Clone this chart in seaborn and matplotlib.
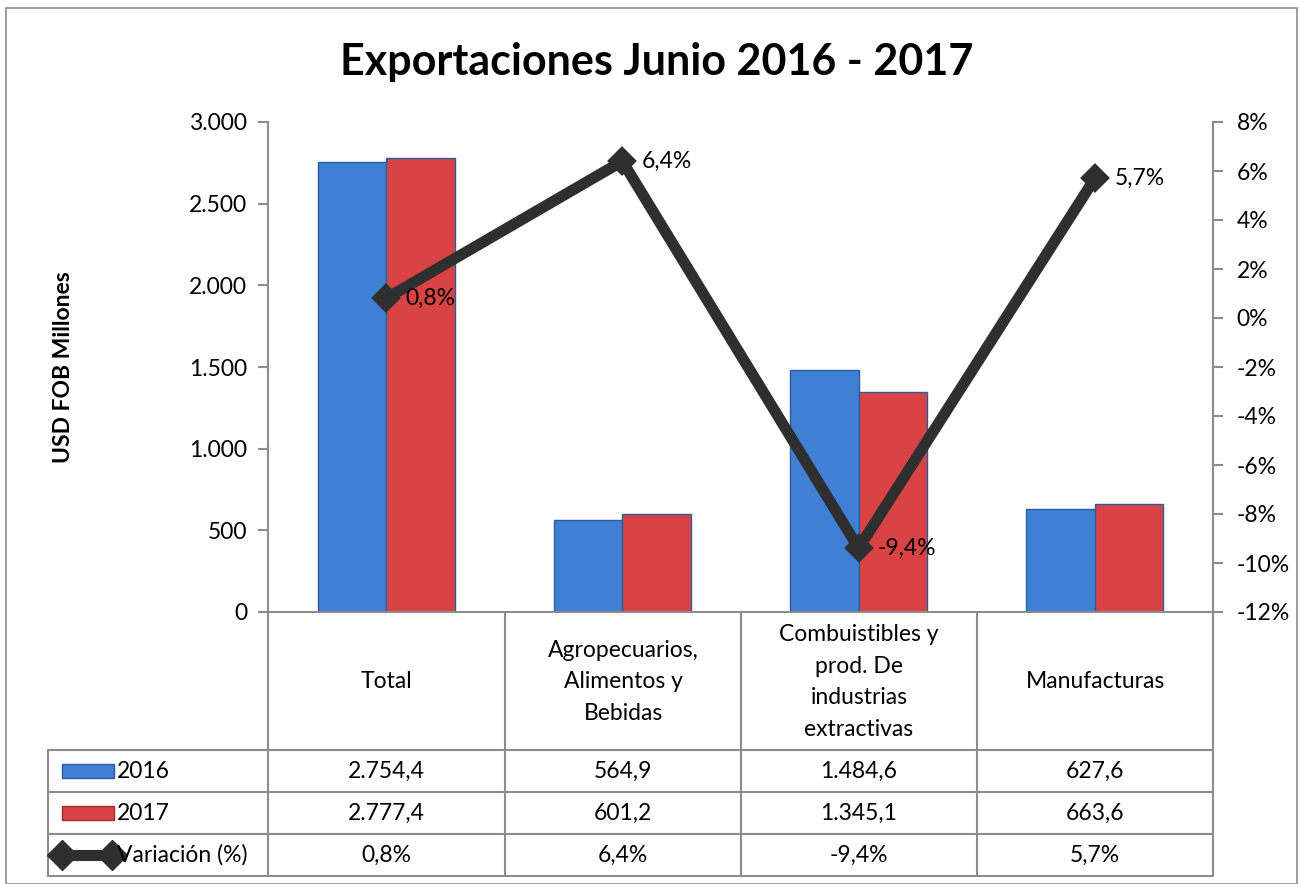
import matplotlib
matplotlib.use('Agg')
import matplotlib.pyplot as plt
import matplotlib.lines as mlines
import matplotlib.patches as mpatches
import pandas as pd
import seaborn as sns

# data
categories = ['Total', 'Agropecuarios,\nAlimentos y\nBebidas',
              'Combuistibles y\nprod. De\nindustrias\nextractivas', 'Manufacturas']
exp_2016 = [2754.4, 564.9, 1484.6, 627.6]
exp_2017 = [2777.4, 601.2, 1345.1, 663.6]
variacion = [0.8, 6.4, -9.4, 5.7]
lbl_2016 = ['2.754,4', '564,9', '1.484,6', '627,6']
lbl_2017 = ['2.777,4', '601,2', '1.345,1', '663,6']
lbl_var = ['0,8%', '6,4%', '-9,4%', '5,7%']

sns.set_style('white')
plt.rcParams['font.family'] = ['Lato', 'DejaVu Sans']
plt.rcParams['text.color'] = 'black'
plt.rcParams['axes.labelcolor'] = 'black'
plt.rcParams['ytick.labelcolor'] = 'black'

W, H = 1300, 884
fig = plt.figure(figsize=(13, 8.84), dpi=100)

def fx(x):
    return x / W

def fy(y):
    return 1 - y / H

blue = '#3f80d4'
red = '#d94343'
grid_c = '#8c8c8c'
line_c = '#2f2f2f'
fs = 16.5

df = pd.DataFrame({
    'cat': list(range(4)) * 2,
    'year': ['2016'] * 4 + ['2017'] * 4,
    'val': exp_2016 + exp_2017,
})

ax = fig.add_axes([fx(268), fy(612), fx(1213) - fx(268), fy(122) - fy(612)])
sns.barplot(data=df, x='cat', y='val', hue='year', palette=[blue, red], saturation=1,
            width=0.58, ax=ax, legend=False, edgecolor=['#2a5d9e'] * 4 + ['#a52a2a'] * 4,
            linewidth=1.0)
ax.set_xlim(-0.5, 3.5)
ax.set_ylim(0, 3000)
ax.set_yticks(range(0, 3001, 500))
ax.set_yticklabels(['0', '500', '1.000', '1.500', '2.000', '2.500', '3.000'], fontsize=fs)
ax.set_xticks([])
ax.set_xlabel('')
ax.set_ylabel('USD FOB Millones', fontsize=fs, fontweight='bold')
ax.yaxis.set_label_coords(-0.205, 0.5)
for s in ['top', 'right']:
    ax.spines[s].set_visible(False)
for s in ['left', 'bottom']:
    ax.spines[s].set_color(grid_c)
    ax.spines[s].set_linewidth(1.5)
ax.tick_params(axis='y', left=True, length=7, color=grid_c, width=1.5, pad=8)

ax2 = ax.twinx()
sns.pointplot(x=list(range(4)), y=variacion, ax=ax2, color=line_c, markers='D',
              markersize=9, linewidth=8, native_scale=True, errorbar=None)
ax2.set_xlim(-0.5, 3.5)
ax2.set_ylim(-12, 8)
ax2.set_yticks(range(-12, 9, 2))
ax2.set_yticklabels([f'{v}%' for v in range(-12, 9, 2)], fontsize=fs)
for s in ['top', 'left', 'bottom']:
    ax2.spines[s].set_visible(False)
ax2.spines['right'].set_color(grid_c)
ax2.spines['right'].set_linewidth(1.5)
ax2.tick_params(axis='y', right=True, length=7, color=grid_c, width=1.5, pad=10)
for i, (v, t) in enumerate(zip(variacion, lbl_var)):
    ax2.annotate(t, (i, v), xytext=(14, 0), textcoords='offset points',
                 va='center', ha='left', fontsize=fs)

# title
fig.text(fx(657), fy(62), 'Exportaciones Junio 2016 - 2017', ha='center', va='center',
         fontsize=31, fontweight='bold')

# data table
def hline(y, x0, x1):
    fig.add_artist(mlines.Line2D([fx(x0), fx(x1)], [fy(y), fy(y)], color=grid_c, lw=1.5))

def vline(x, y0, y1):
    fig.add_artist(mlines.Line2D([fx(x), fx(x)], [fy(y0), fy(y1)], color=grid_c, lw=1.5))

for y in [750, 792, 834, 876]:
    hline(y, 48, 1213)
vline(48, 750, 876)
for x in [268, 505, 741, 977, 1213]:
    vline(x, 612, 876)

col_x = [386, 623, 859, 1095]
for i, c in enumerate(categories):
    fig.text(fx(col_x[i]), fy(682), c, ha='center', va='center', fontsize=fs,
             linespacing=1.62)
rows_y = [771, 813, 855]
for i in range(4):
    fig.text(fx(col_x[i]), fy(rows_y[0]), lbl_2016[i], ha='center', va='center', fontsize=fs)
    fig.text(fx(col_x[i]), fy(rows_y[1]), lbl_2017[i], ha='center', va='center', fontsize=fs)
    fig.text(fx(col_x[i]), fy(rows_y[2]), lbl_var[i], ha='center', va='center', fontsize=fs)

# legend keys inside table
for yy, col, ec, name in [(rows_y[0], blue, '#2a5d9e', '2016'), (rows_y[1], red, '#a52a2a', '2017')]:
    fig.add_artist(mpatches.Rectangle((fx(62), fy(yy + 7)), fx(114) - fx(62), fy(yy - 7) - fy(yy + 7),
                                      facecolor=col, edgecolor=ec, lw=1))
    fig.text(fx(117), fy(yy), name, ha='left', va='center', fontsize=fs)
fig.add_artist(mlines.Line2D([fx(62), fx(112)], [fy(rows_y[2]), fy(rows_y[2])], color=line_c,
                             lw=8, marker='D', markersize=15, markevery=[0, 1]))
fig.text(fx(117), fy(rows_y[2]), 'Variación (%)', ha='left', va='center', fontsize=fs)

# outer border
fig.add_artist(mpatches.Rectangle((fx(6), fy(884)), fx(1297) - fx(6), fy(8) - fy(884),
                                  fill=False, edgecolor=grid_c, lw=1.2))

fig.savefig('out.png', dpi=100)
